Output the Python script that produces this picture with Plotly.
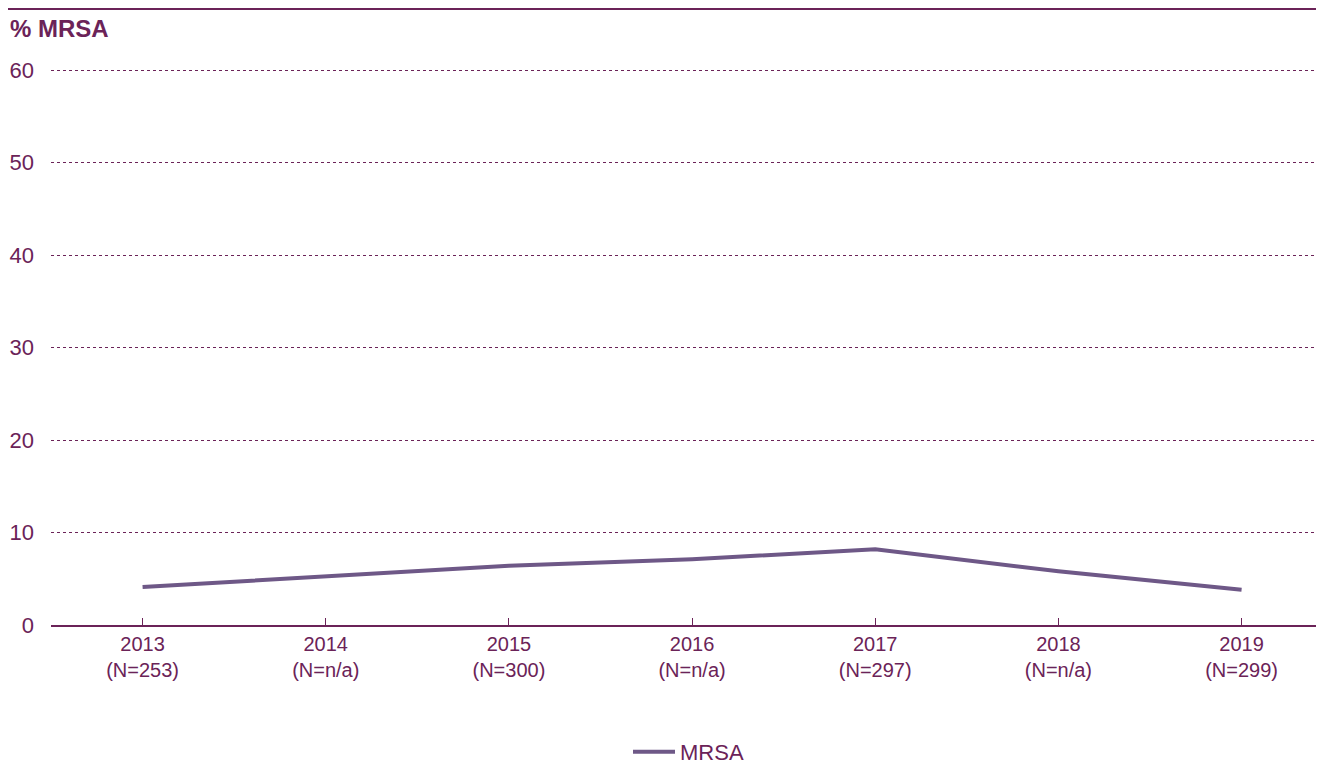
import plotly.graph_objects as go

years = ["2013", "2014", "2015", "2016", "2017", "2018", "2019"]
n_labels = ["(N=253)", "(N=n/a)", "(N=300)", "(N=n/a)", "(N=297)", "(N=n/a)", "(N=299)"]
mrsa = [4.1, 5.3, 6.4, 7.1, 8.2, 5.8, 3.8]
y_ticks = [0, 10, 20, 30, 40, 50, 60]

dark = "#6b2358"
line_col = "#6e5887"
font_family = "Liberation Sans, Arial, sans-serif"

cats = [f"{y}<br>{n}" for y, n in zip(years, n_labels)]

fig = go.Figure()
fig.add_trace(go.Scatter(
    x=cats, y=mrsa, mode="lines", name="MRSA",
    line=dict(color=line_col, width=4),
))

# page body has an 8px margin; figure sized to fit the window
W, H = 1316, 759
ml, mr, mt, mb = 43, 0, 54, 142
ph = H - mt - mb
pw = W - ml - mr
ymax = 60 * ph / (617 - 62)
fig.update_layout(
    width=W, height=H,
    margin=dict(l=ml, r=mr, t=mt, b=mb, autoexpand=False),
    paper_bgcolor="white", plot_bgcolor="white",
    font=dict(family=font_family, color=dark),
    showlegend=True,
    legend=dict(orientation="h", x=(620 - ml) / pw, xanchor="left",
                y=-(744 - 617) / ph, yanchor="middle",
                itemwidth=42, tracegroupgap=0,
                font=dict(size=22, color=dark, family=font_family)),
    xaxis=dict(
        type="category", range=[-0.5, 6.45],
        showline=True, linecolor=dark, linewidth=1.5,
        ticks="inside", ticklen=7, tickcolor=dark, tickwidth=1,
        showgrid=False, zeroline=False,
        tickfont=dict(size=20, color=dark, family=font_family),
    ),
    yaxis=dict(
        range=[0, ymax], tickvals=y_ticks,
        showgrid=True, gridcolor=dark, griddash="dot", gridwidth=1,
        zeroline=False, showline=False, ticks="",
        ticklabelstandoff=16,
        tickfont=dict(size=22, color=dark, family=font_family),
    ),
    annotations=[dict(
        text="<b>% MRSA</b>", xref="paper", yref="paper",
        x=-ml / pw, xanchor="left", xshift=0,
        y=1 + (mt - 20) / ph, yanchor="middle",
        showarrow=False, font=dict(size=24, color=dark, family=font_family),
    )],
    shapes=[dict(
        type="line", xref="paper", yref="paper",
        x0=-ml / pw, x1=1,
        y0=1 + (mt - 1) / ph, y1=1 + (mt - 1) / ph,
        line=dict(color=dark, width=2),
    )],
)

fig.write_html("out.html")
